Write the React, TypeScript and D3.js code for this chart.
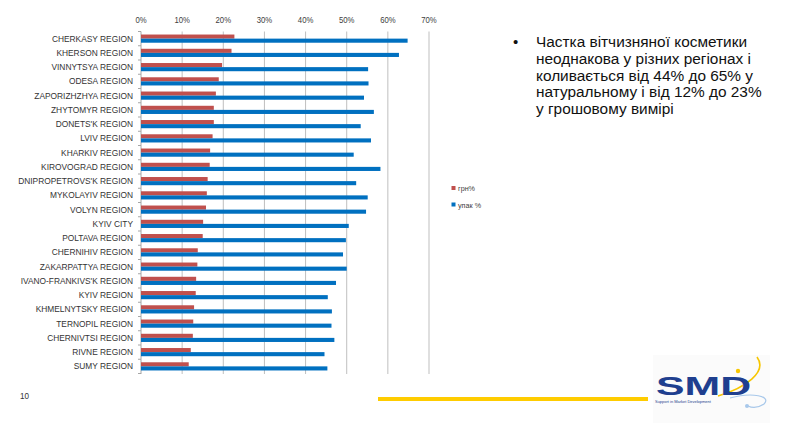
import React from "react";
import * as d3 from "d3";

const categories = [
  "CHERKASY REGION", "KHERSON REGION", "VINNYTSYA REGION", "ODESA REGION",
  "ZAPORIZHZHYA REGION", "ZHYTOMYR REGION", "DONETS'K REGION", "LVIV REGION",
  "KHARKIV REGION", "KIROVOGRAD REGION", "DNIPROPETROVS'K REGION", "MYKOLAYIV REGION",
  "VOLYN REGION", "KYIV CITY", "POLTAVA REGION", "CHERNIHIV REGION",
  "ZAKARPATTYA REGION", "IVANO-FRANKIVS'K REGION", "KYIV REGION", "KHMELNYTSKY REGION",
  "TERNOPIL REGION", "CHERNIVTSI REGION", "RIVNE REGION", "SUMY REGION",
];
const seriesNames = ["грн%", "упак %"];
const uahShare = [22.7, 22.0, 19.7, 18.9, 18.2, 17.7, 17.7, 17.4, 16.8, 16.7, 16.2, 16.0, 15.8, 15.1, 15.0, 13.8, 13.7, 13.4, 13.3, 12.9, 12.7, 12.6, 12.1, 11.6];
const packShare = [64.8, 62.7, 55.2, 55.3, 54.2, 56.6, 53.4, 55.9, 51.7, 58.2, 52.3, 55.1, 54.7, 50.5, 49.8, 49.1, 50.0, 47.4, 45.4, 46.4, 46.3, 47.0, 44.6, 45.3];
const xTicks = [0, 10, 20, 30, 40, 50, 60, 70];
const bulletLines = [
  "Частка вітчизняної косметики",
  "неоднакова у різних регіонах і",
  "коливається від 44% до 65% у",
  "натуральному і від 12% до 23%",
  "у грошовому вимірі",
];
const pageNumber = "10";

const colors = ["#C0504D", "#0070C0"];
const font = "Arial, 'Liberation Sans', sans-serif";
const SX = 0.9;

function T({ x, y, anchor = "start", size, fill = "#333", children, weight = "normal", sx = SX }: any) {
  return (
    <text
      transform={`translate(${x},${y}) scale(${sx},1)`}
      textAnchor={anchor}
      fontSize={size}
      fontFamily={font}
      fill={fill}
      fontWeight={weight}
    >
      {children}
    </text>
  );
}

export default function App() {
  const W = 785, H = 423;
  const x = d3.scaleLinear().domain([0, 70]).range([141, 429]);
  const y = d3.scaleBand<string>().domain(categories).range([31.5, 373.5]).paddingInner(0);
  const ys = d3.scaleBand<string>().domain(seriesNames).range([0, y.bandwidth()]).paddingInner(0).paddingOuter(0.74);
  const values = [uahShare, packShare];

  return (
    <svg width={W} height={H} style={{ position: "absolute", left: 0, top: 0, background: "#fff" }}>
      <rect width={W} height={H} fill="#fff" />
      {/* gridlines */}
      {xTicks.map((t) => (
        <line key={t} x1={x(t)} x2={x(t)} y1={31.5} y2={374} stroke={t === 0 ? "#a6a6a6" : "#bfbfbf"} strokeWidth={1} />
      ))}
      {/* axis tick marks at category boundaries */}
      {categories.map((c) => (
        <line key={c} x1={x(0) - 3} x2={x(0)} y1={y(c)!} y2={y(c)!} stroke="#a6a6a6" />
      ))}
      <line x1={x(0) - 3} x2={x(0)} y1={373.5} y2={373.5} stroke="#a6a6a6" />
      {/* tick labels */}
      {xTicks.map((t) => (
        <T key={t} x={x(t)} y={23} anchor="middle" size={8.6} fill="#404040">{`${t}%`}</T>
      ))}
      {/* bars */}
      {seriesNames.map((s, si) =>
        categories.map((c, i) => (
          <rect
            key={s + c}
            x={x(0)}
            y={y(c)! + ys(s)!}
            width={x(values[si][i]) - x(0)}
            height={ys.bandwidth()}
            fill={colors[si]}
          />
        ))
      )}
      {/* category labels */}
      {categories.map((c) => (
        <T key={c} x={133} y={y(c)! + y.bandwidth() / 2 + 3} anchor="end" size={9.3} fill="#333">{c}</T>
      ))}
      {/* legend */}
      {seriesNames.map((s, i) => (
        <g key={s}>
          <rect x={451.5} y={186 + i * 16.5} width={4} height={4} fill={colors[i]} />
          <T x={458} y={191 + i * 16.5} size={8} fill="#404040">{s}</T>
        </g>
      ))}
      {/* bullet text */}
      <text x={513} y={47} fontSize={15} fontFamily={font} fill="#111">•</text>
      {bulletLines.map((l, i) => (
        <T key={i} x={536} y={47.3 + i * 16.6} size={15.4} fill="#111" sx={1}>{l}</T>
      ))}
      {/* footer */}
      <T x={20} y={398.5} size={9} fill="#333">{pageNumber}</T>
      <rect x={378} y={397} width={270} height={4} fill="#FFCC00" />
      {/* logo */}
      <g>
        <rect x={653} y={355} width={117} height={68} fill="#fbfbfb" />
        <path d="M 718 396 C 745 388, 768 372, 757 357" fill="none" stroke="#F7C600" strokeWidth={1.6} />
        <circle cx={738} cy={371} r={2.2} fill="#F7C600" />
        <path d="M 730 398 C 752 392, 772 396, 764 404 C 758 408, 752 408, 748 406" fill="none" stroke="#a8c8ea" strokeWidth={1.2} />
        <circle cx={747} cy={406} r={2} fill="#a8c8ea" />
        <T x={703.5} y={394.5} anchor="middle" size={25.5} fill="#1F3F8F" weight="bold" sx={1.68}>SMD</T>
        <T x={655} y={402.5} size={3.8} fill="#1F3F8F" sx={1.05}>Support in Market Development</T>
      </g>
    </svg>
  );
}
